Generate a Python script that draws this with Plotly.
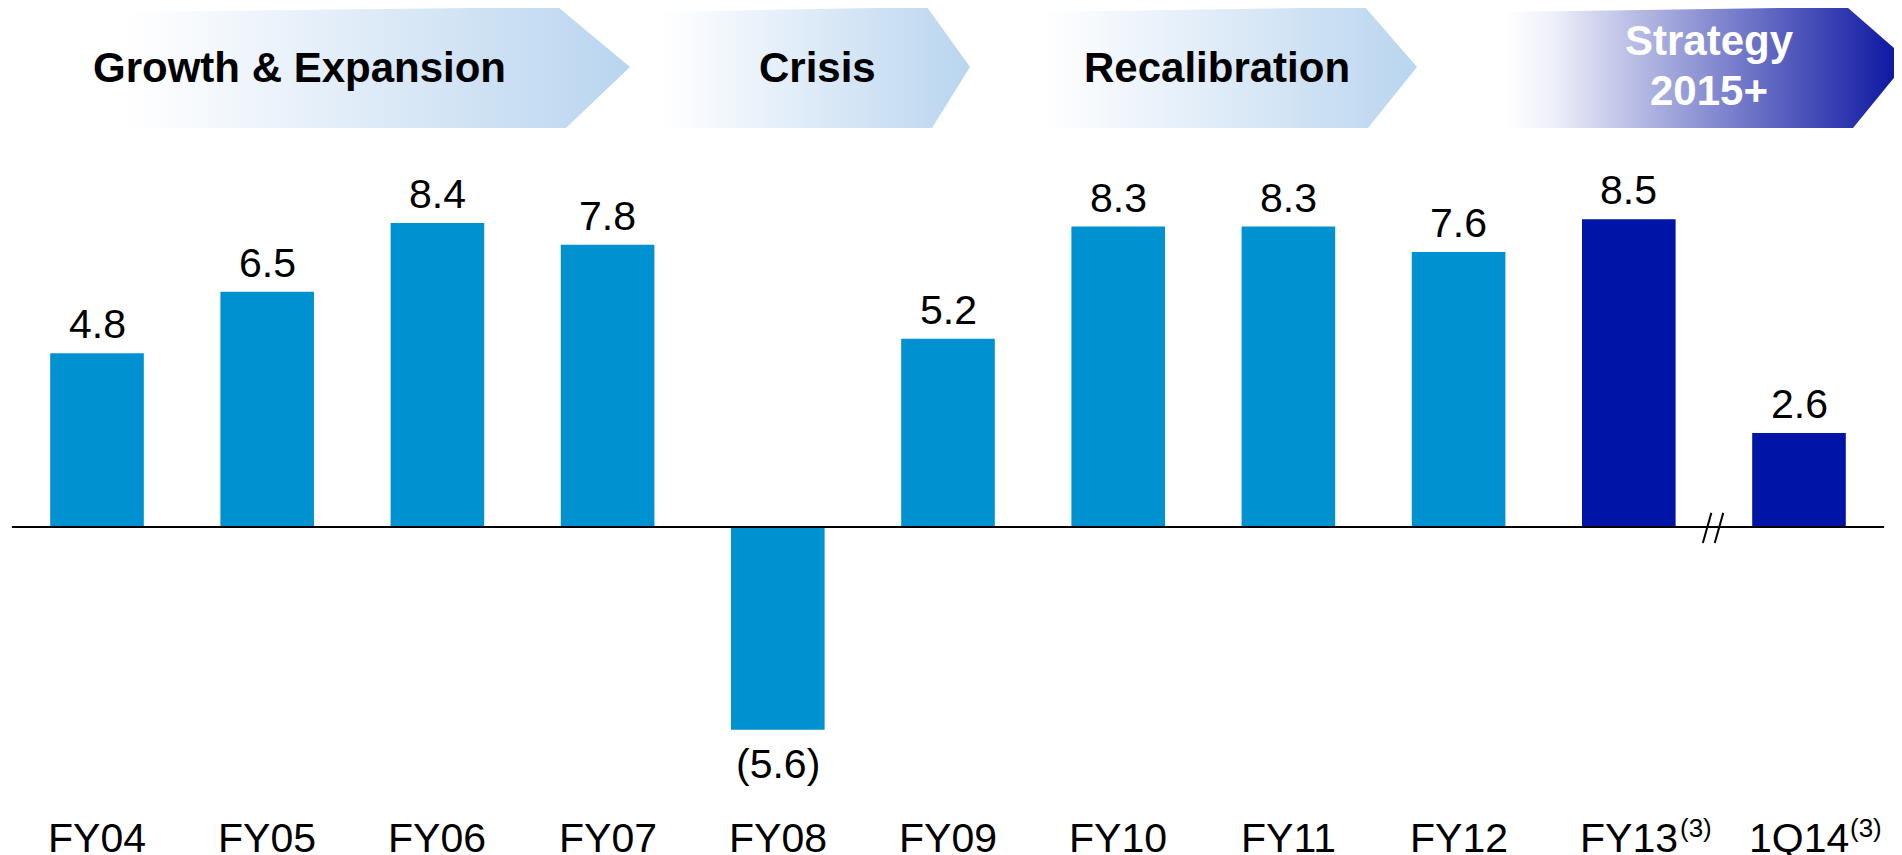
import plotly.graph_objects as go

# ---- data ----
categories = ["FY04", "FY05", "FY06", "FY07", "FY08", "FY09", "FY10", "FY11", "FY12", "FY13", "1Q14"]
values = [4.8, 6.5, 8.4, 7.8, -5.6, 5.2, 8.3, 8.3, 7.6, 8.5, 2.6]
value_labels = ["4.8", "6.5", "8.4", "7.8", "(5.6)", "5.2", "8.3", "8.3", "7.6", "8.5", "2.6"]
footnoted = ["FY13", "1Q14"]
footnote_text = "(3)"
phases = ["Growth & Expansion", "Crisis", "Recalibration", "Strategy 2015+"]
strategy_start = "FY13"

# ---- style / layout (page pixel positions; page body has an 8px margin) ----
OFF = 8
W, H = 1902 - OFF, 855 - OFF
LIGHT = "#0091d0"
DARK = "#0014a5"
FONT = "Liberation Sans, Arial, sans-serif"
PX_PER_CAT = 170.2
CAT0_PX = 97 - OFF
ZERO_PX = 527 - OFF
PX_PER_UNIT = 36.2


def px(v):
    return v - OFF


first_dark = categories.index(strategy_start)
colors = [LIGHT if i < first_dark else DARK for i in range(len(categories))]

fig = go.Figure()

# arrows (pixel coordinate overlay)
light_scale = [[0, "#ffffff"], [0.15, "#f6f9fd"], [1, "#b9d5ef"]]
arrow_shapes = [
    ([125, 558, 630, 566, 125], [12, 7, 67, 128, 128], light_scale),
    ([660, 927, 970, 932, 660], [12, 7, 67, 128, 128], light_scale),
    ([1040, 1365, 1417, 1368, 1040], [12, 7, 67, 128, 128], light_scale),
    ([1505, 1847, 1902, 1902, 1853, 1505], [12, 7, 55, 68, 128, 128],
     [[0, "#ffffff"], [0.12, "#eef0f9"], [1, "#0a14a0"]]),
]
for xs, ys, cs in arrow_shapes:
    fig.add_trace(go.Scatter(
        x=[px(v) for v in xs], y=[px(v) for v in ys], xaxis="x2", yaxis="y2",
        mode="lines", fill="toself",
        line=dict(width=0, color="rgba(0,0,0,0)"),
        fillgradient=dict(type="horizontal", colorscale=cs),
        hoverinfo="skip", showlegend=False,
    ))

fig.add_trace(go.Bar(
    x=categories, y=values, marker=dict(color=colors, line=dict(width=0)),
    width=0.55, showlegend=False, hoverinfo="skip",
))

annotations = []
# value labels
for c, v, t in zip(categories, values, value_labels):
    annotations.append(dict(
        x=c, y=v, xref="x", yref="y", text=t, showarrow=False,
        xanchor="center", yanchor="bottom" if v >= 0 else "top",
        yshift=4 if v >= 0 else -9,
        font=dict(family=FONT, size=41, color="black"),
    ))
# category labels
for c in categories:
    annotations.append(dict(
        x=c, y=px(838), xref="x", yref="y2", text=c, showarrow=False,
        xanchor="center", yanchor="middle",
        font=dict(family=FONT, size=41, color="black"),
    ))
    if c in footnoted:
        annotations.append(dict(
            x=c, y=px(811), xref="x", yref="y2", text=footnote_text, showarrow=False,
            xanchor="left", yanchor="top", xshift=49,
            font=dict(family=FONT, size=26, color="black"),
        ))
# phase labels
phase_pos = [(299, 67), (817, 67), (1217, 67)]
for name, (x0, y0) in zip(phases[:3], phase_pos):
    annotations.append(dict(
        x=px(x0), y=px(y0), xref="x2", yref="y2", text="<b>%s</b>" % name, showarrow=False,
        xanchor="center", yanchor="middle",
        font=dict(family=FONT, size=42, color="black"),
    ))
for line, y0 in zip(phases[3].split(" "), [40, 90]):
    annotations.append(dict(
        x=px(1709), y=px(y0), xref="x2", yref="y2", text="<b>%s</b>" % line, showarrow=False,
        xanchor="center", yanchor="middle",
        font=dict(family=FONT, size=42, color="white"),
    ))

n = len(categories)
shapes = [
    dict(type="line", xref="x", yref="y", x0=-0.5, x1=n - 0.5, y0=0, y1=0,
         line=dict(color="black", width=2)),
]
# axis-break slashes between FY13 and 1Q14
bx = first_dark + 0.5
for dx in (-0.04, 0.03):
    shapes.append(dict(type="line", xref="x", yref="y",
                       x0=bx + dx - 0.025, x1=bx + dx + 0.025, y0=-0.44, y1=0.39,
                       line=dict(color="black", width=2)))

xlo = -CAT0_PX / PX_PER_CAT
xhi = (W - CAT0_PX) / PX_PER_CAT
ytop = ZERO_PX / PX_PER_UNIT
ybot = -(H - ZERO_PX) / PX_PER_UNIT

fig.update_layout(
    width=W, height=H,
    margin=dict(l=0, r=0, t=0, b=0),
    paper_bgcolor="white", plot_bgcolor="white",
    xaxis=dict(domain=[0, 1], range=[xlo, xhi], visible=False, type="category", fixedrange=True),
    yaxis=dict(domain=[0, 1], range=[ybot, ytop], visible=False, fixedrange=True),
    xaxis2=dict(domain=[0, 1], range=[0, W], visible=False, overlaying="x", anchor="y2"),
    yaxis2=dict(domain=[0, 1], range=[H, 0], visible=False, overlaying="y", anchor="x2"),
    annotations=annotations,
    shapes=shapes,
    bargap=0.45,
)

fig.write_html("out.html", config=dict(displayModeBar=False))
